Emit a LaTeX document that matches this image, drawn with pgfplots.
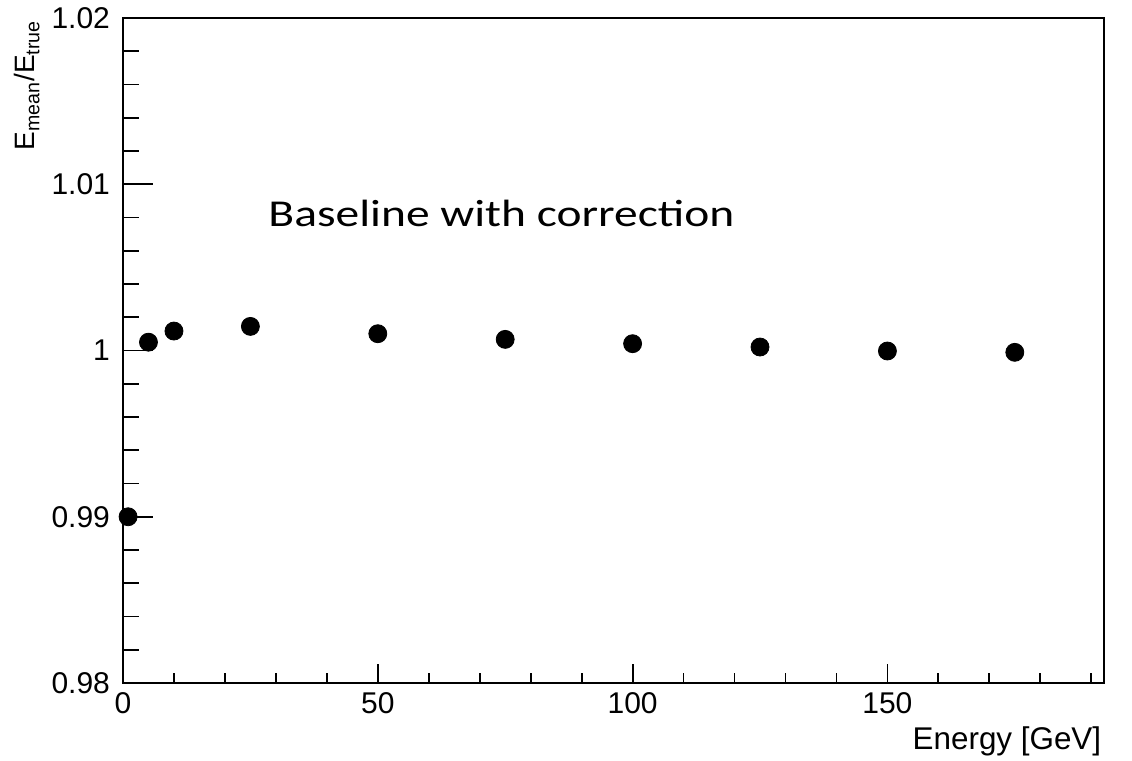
\documentclass[border=0pt]{standalone}
\usepackage{fontspec}
\setmainfont{Liberation Sans}
\newfontfamily\calibri{Carlito}
\usepackage{pgfplots}
\pgfplotsset{compat=1.18}
\begin{document}
\begin{tikzpicture}
\useasboundingbox (-61.5pt,-39pt) rectangle (504.5pt,341.5pt);
\begin{axis}[
 at={(0,0)}, anchor=south west, scale only axis,
 width=490.5pt, height=332.5pt,
 xmin=0, xmax=192.5, ymin=0.98, ymax=1.02,
 xtick={0,50,100,150},
 minor xtick={10,20,30,40,60,70,80,90,110,120,130,140,160,170,180,190},
 ytick={0.98,0.99,1,1.01,1.02},
 minor ytick={0.982,0.984,0.986,0.988,0.992,0.994,0.996,0.998,1.002,1.004,1.006,1.008,1.012,1.014,1.016,1.018},
 xtick pos=bottom, ytick pos=left, tick align=inside,
 xtick style={/pgfplots/major tick length=9.5pt, /pgfplots/minor tick length=5pt},
 ytick style={/pgfplots/major tick length=15pt, /pgfplots/minor tick length=8pt},
 axis line style={line width=1pt},
 every tick/.style={line width=0.9pt, black},
 /pgf/number format/assume math mode=true,
 ticklabel style={font=\fontsize{15}{18}\selectfont},
 yticklabel style={/pgf/number format/fixed, /pgf/number format/precision=2, xshift=-3pt},
 xticklabel style={yshift=-1pt},
 scaled ticks=false,
]
\addplot[only marks, mark=*, mark size=4.5pt, black] coordinates {
(1,0.9900) (5,1.0005) (10,1.00117) (25,1.00145) (50,1.00101)
(75,1.00067) (100,1.00041) (125,1.00021) (150,0.99997) (175,0.99989)
};
\end{axis}
\node[rotate=90, anchor=base east, font=\fontsize{14}{17}\selectfont, inner sep=0pt] at (-44pt,331.5pt) {E\textsubscript{mean}/E\textsubscript{true}};
\node[anchor=base east, font=\fontsize{15.7}{18}\selectfont, inner sep=0pt] at (489.3pt,-33.5pt) {Energy [GeV]};
\node[anchor=base west, font=\calibri\fontsize{19}{22}\selectfont, inner sep=0pt, xscale=1.25] at (72.5pt,228pt) {Baseline with correction};
\end{tikzpicture}
\end{document}
